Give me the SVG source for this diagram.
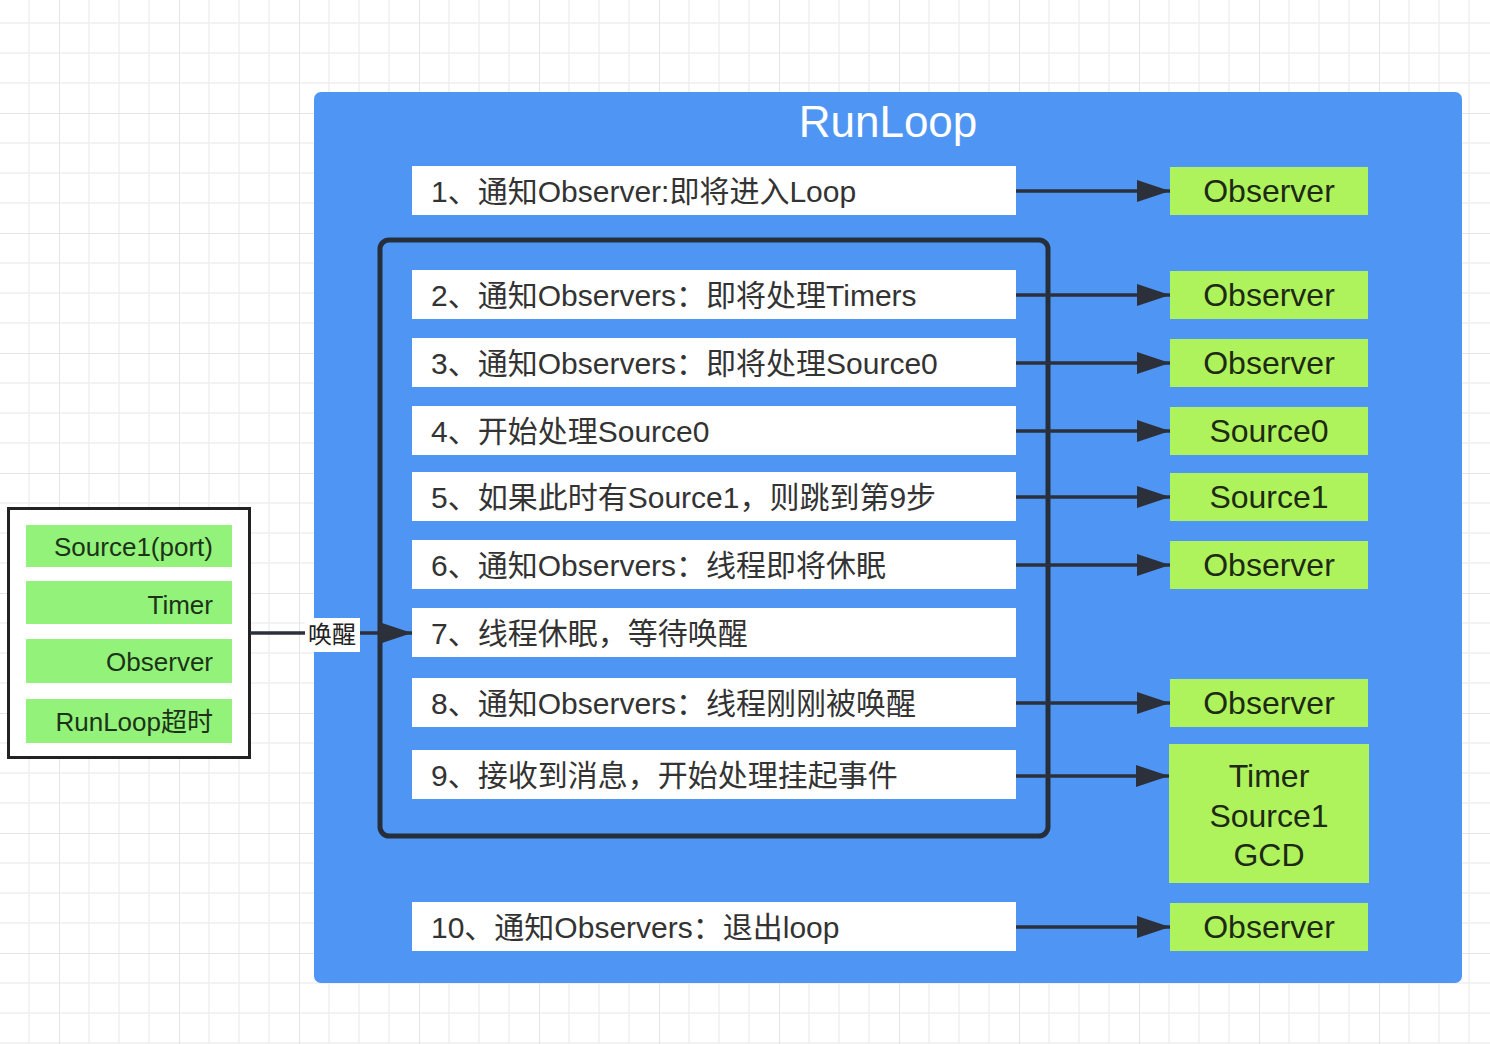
<svg xmlns="http://www.w3.org/2000/svg" width="1490" height="1044" viewBox="0 0 1490 1044">
<defs>
<pattern id="grid" patternUnits="userSpaceOnUse" x="59" y="113" width="120" height="120">
<path d="M30 0V120M60 0V120M90 0V120M0 30H120M0 60H120M0 90H120" stroke="#f0f0f0" stroke-width="1.5" fill="none"/>
<path d="M0 0V120M0 0H120" stroke="#e4e4e4" stroke-width="2" fill="none"/>
</pattern>
<marker id="arr" markerUnits="userSpaceOnUse" markerWidth="34" markerHeight="22" refX="33" refY="11" orient="auto">
<path d="M0 0L33 11L0 22Z" fill="#2b303b"/>
</marker>
<style>
.row{fill:#ffffff}
.rt{font-family:"Liberation Sans","Noto Sans CJK SC",sans-serif;font-size:30px;fill:#333333}
.gb{fill:#aef35c}
.gt{font-family:"Liberation Sans","Noto Sans CJK SC",sans-serif;font-size:32px;fill:#1e2a16;text-anchor:middle}
.lb{fill:#92f27a}
.lt{font-family:"Liberation Sans","Noto Sans CJK SC",sans-serif;font-size:26px;fill:#1d3318;text-anchor:end}
.cn{stroke:#2b303b;stroke-width:3.5;fill:none;marker-end:url(#arr)}
</style>
</defs>
<rect width="1490" height="1044" fill="#ffffff"/>
<rect width="1490" height="1044" fill="url(#grid)"/>

<g id="runloop">
<rect x="314" y="92" width="1148" height="891" rx="7" fill="#4f96f4"/>
<text x="888" y="137" font-family="'Liberation Sans','Noto Sans CJK SC',sans-serif" font-size="44" fill="#ffffff" text-anchor="middle">RunLoop</text>
</g>

<g id="loop-frame">
<rect x="380" y="240" width="668" height="596" rx="9" fill="none" stroke="#272e3b" stroke-width="5"/>
</g>

<g id="step1"><rect class="row" x="412" y="166" width="604" height="49"/><text class="rt" x="431" y="202">1、通知Observer:即将进入Loop</text></g>
<g id="step2"><rect class="row" x="412" y="270" width="604" height="49"/><text class="rt" x="431" y="306">2、通知Observers：即将处理Timers</text></g>
<g id="step3"><rect class="row" x="412" y="338" width="604" height="49"/><text class="rt" x="431" y="374">3、通知Observers：即将处理Source0</text></g>
<g id="step4"><rect class="row" x="412" y="406" width="604" height="49"/><text class="rt" x="431" y="442">4、开始处理Source0</text></g>
<g id="step5"><rect class="row" x="412" y="472" width="604" height="49"/><text class="rt" x="431" y="508">5、如果此时有Source1，则跳到第9步</text></g>
<g id="step6"><rect class="row" x="412" y="540" width="604" height="49"/><text class="rt" x="431" y="576">6、通知Observers：线程即将休眠</text></g>
<g id="step7"><rect class="row" x="412" y="608" width="604" height="49"/><text class="rt" x="431" y="644">7、线程休眠，等待唤醒</text></g>
<g id="step8"><rect class="row" x="412" y="678" width="604" height="49"/><text class="rt" x="431" y="714">8、通知Observers：线程刚刚被唤醒</text></g>
<g id="step9"><rect class="row" x="412" y="750" width="604" height="49"/><text class="rt" x="431" y="786">9、接收到消息，开始处理挂起事件</text></g>
<g id="step10"><rect class="row" x="412" y="902" width="604" height="49"/><text class="rt" x="431" y="938">10、通知Observers：退出loop</text></g>

<g id="out1"><rect class="gb" x="1170" y="167" width="198" height="48"/><text class="gt" x="1269" y="202">Observer</text></g>
<g id="out2"><rect class="gb" x="1170" y="271" width="198" height="48"/><text class="gt" x="1269" y="306">Observer</text></g>
<g id="out3"><rect class="gb" x="1170" y="339" width="198" height="48"/><text class="gt" x="1269" y="374">Observer</text></g>
<g id="out4"><rect class="gb" x="1170" y="407" width="198" height="48"/><text class="gt" x="1269" y="442">Source0</text></g>
<g id="out5"><rect class="gb" x="1170" y="473" width="198" height="48"/><text class="gt" x="1269" y="508">Source1</text></g>
<g id="out6"><rect class="gb" x="1170" y="541" width="198" height="48"/><text class="gt" x="1269" y="576">Observer</text></g>
<g id="out8"><rect class="gb" x="1170" y="679" width="198" height="48"/><text class="gt" x="1269" y="714">Observer</text></g>
<g id="out9"><rect class="gb" x="1169" y="744" width="200" height="139"/><text class="gt" x="1269" y="787">Timer</text><text class="gt" x="1269" y="827">Source1</text><text class="gt" x="1269" y="866">GCD</text></g>
<g id="out10"><rect class="gb" x="1170" y="903" width="198" height="48"/><text class="gt" x="1269" y="938">Observer</text></g>

<g id="wake-sources">
<rect x="8.5" y="508.5" width="241" height="249" fill="#ffffff" stroke="#222222" stroke-width="3"/>
<rect class="lb" x="26" y="525" width="206" height="42"/><text class="lt" x="213" y="556">Source1(port)</text>
<rect class="lb" x="26" y="581" width="206" height="43"/><text class="lt" x="213" y="614">Timer</text>
<rect class="lb" x="26" y="639" width="206" height="44"/><text class="lt" x="213" y="671">Observer</text>
<rect class="lb" x="26" y="699" width="206" height="44"/><text class="lt" x="213" y="731">RunLoop超时</text>
</g>

<g id="connectors">
<path class="cn" d="M1016 191H1170"/>
<path class="cn" d="M1016 295H1170"/>
<path class="cn" d="M1016 363H1170"/>
<path class="cn" d="M1016 431H1170"/>
<path class="cn" d="M1016 497H1170"/>
<path class="cn" d="M1016 565H1170"/>
<path class="cn" d="M1016 703H1170"/>
<path class="cn" d="M1016 776H1169"/>
<path class="cn" d="M1016 927H1170"/>
<path class="cn" d="M250 633H412"/>
<rect x="305" y="618" width="55" height="34" fill="#ffffff"/>
<text x="332" y="643" font-family="'Liberation Sans','Noto Sans CJK SC',sans-serif" font-size="24" fill="#222222" text-anchor="middle">唤醒</text>
</g>
</svg>
